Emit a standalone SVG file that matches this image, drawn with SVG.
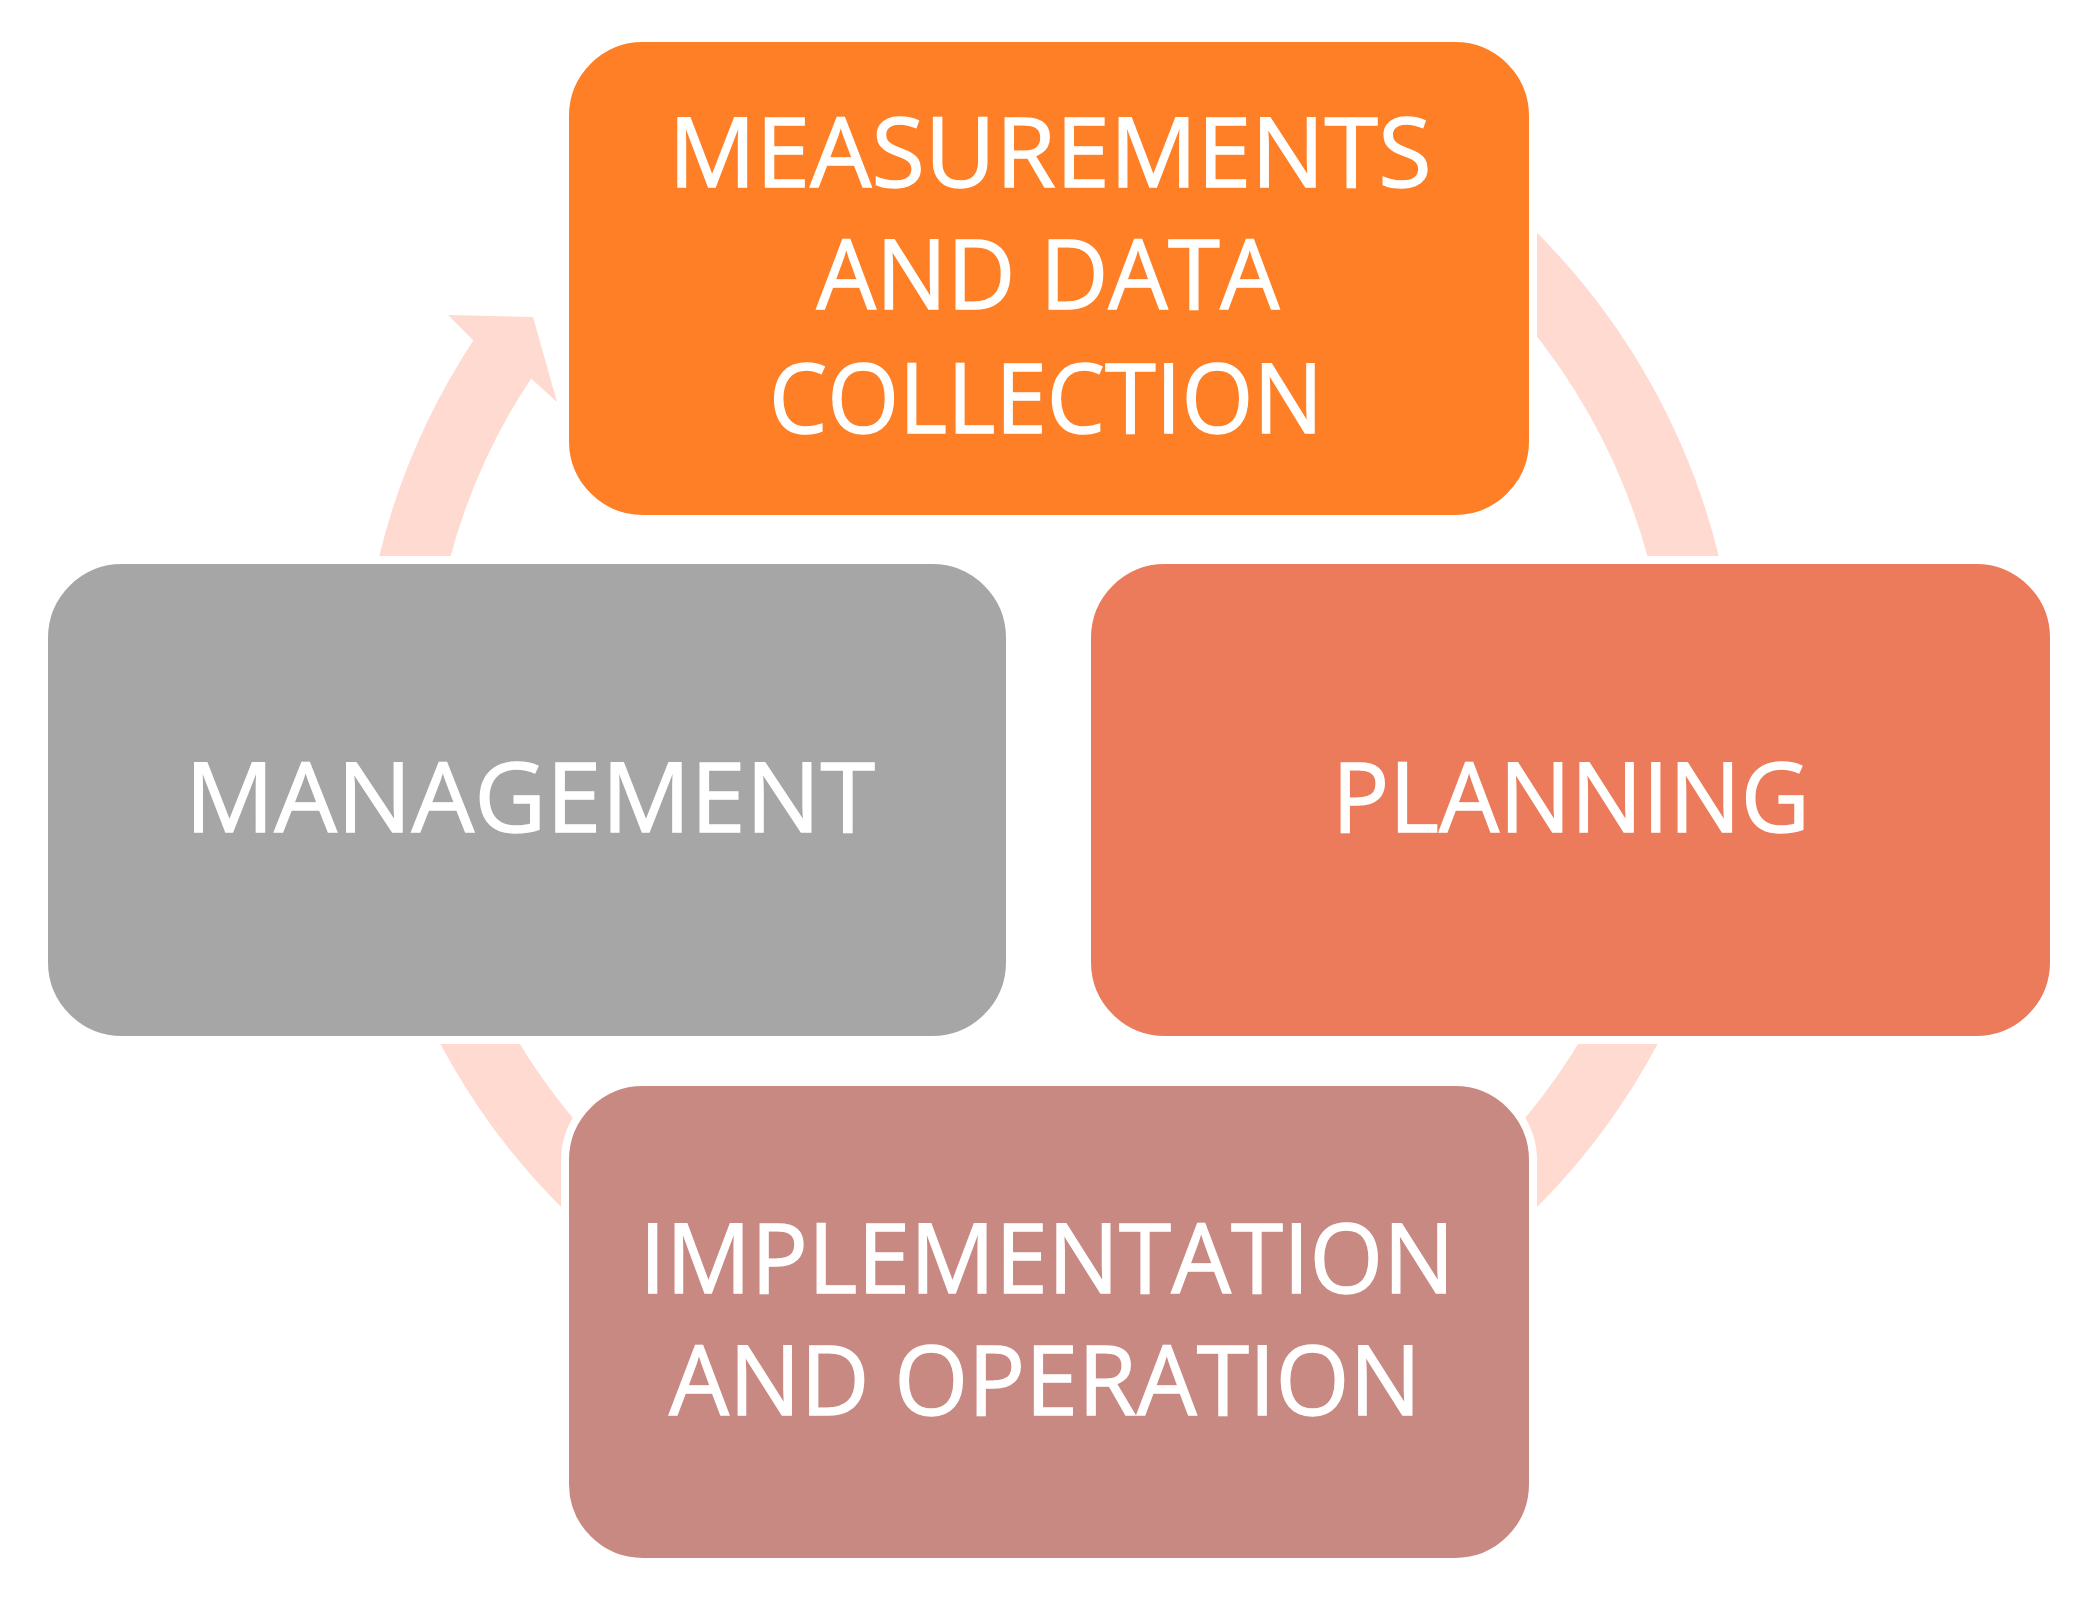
<svg xmlns="http://www.w3.org/2000/svg" width="2099" height="1604" viewBox="0 0 2099 1604">
  <style>
    .ring { fill: none; stroke: #FFDAD0; stroke-width: 69; stroke-linecap: butt; }
    .head { fill: #FFDAD0; stroke: none; }
    .box { stroke: #FFFFFF; stroke-width: 8; }
    .lbl { font-family: "Open Sans", "Liberation Sans", sans-serif; font-size: 97px; fill: #FFFFFF; stroke: #FFFFFF; stroke-width: 1.3; stroke-linejoin: miter; text-anchor: middle; }
  </style>
  <rect x="0" y="0" width="2099" height="1604" fill="#FFFFFF"/>
  <g id="connectors">
    <path class="ring" d="M 1480 226.7 A 655 655 0 0 1 1694 606.3"/>
    <path class="ring" d="M 1694 833.7 A 655 655 0 0 1 1470 1221.8"/>
    <path class="ring" d="M 628 1221.8 A 655 655 0 0 1 404 833.7"/>
    <path class="ring" d="M 404 606.3 A 655 655 0 0 1 502.2 359.4"/>
    <polygon class="head" points="461.1,359.9 473.4,340.4 448,315 533,317 557,402 531,378.4 519.9,395.9"/>
  </g>
  <g id="node-measurements">
    <rect class="box" x="565" y="38" width="968" height="481" rx="78" ry="78" fill="#FE7F25"/>
    <text class="lbl" x="1050" y="187" textLength="763" lengthAdjust="spacingAndGlyphs">MEASUREMENTS</text>
    <text class="lbl" x="1048" y="309" textLength="463" lengthAdjust="spacingAndGlyphs">AND DATA</text>
    <text class="lbl" x="1046" y="433" textLength="554" lengthAdjust="spacingAndGlyphs">COLLECTION</text>
  </g>
  <g id="node-management">
    <rect class="box" x="44" y="560" width="966" height="480" rx="78" ry="78" fill="#A6A6A6"/>
    <text class="lbl" x="530" y="832" textLength="690" lengthAdjust="spacingAndGlyphs">MANAGEMENT</text>
  </g>
  <g id="node-planning">
    <rect class="box" x="1087" y="560" width="967" height="480" rx="78" ry="78" fill="#EB7B5B"/>
    <text class="lbl" x="1571" y="832" textLength="478" lengthAdjust="spacingAndGlyphs">PLANNING</text>
  </g>
  <g id="node-implementation">
    <rect class="box" x="565" y="1082" width="968" height="480" rx="78" ry="78" fill="#C88983"/>
    <text class="lbl" x="1047" y="1293" textLength="815" lengthAdjust="spacingAndGlyphs">IMPLEMENTATION</text>
    <text class="lbl" x="1045" y="1415" textLength="752" lengthAdjust="spacingAndGlyphs">AND OPERATION</text>
  </g>
</svg>
